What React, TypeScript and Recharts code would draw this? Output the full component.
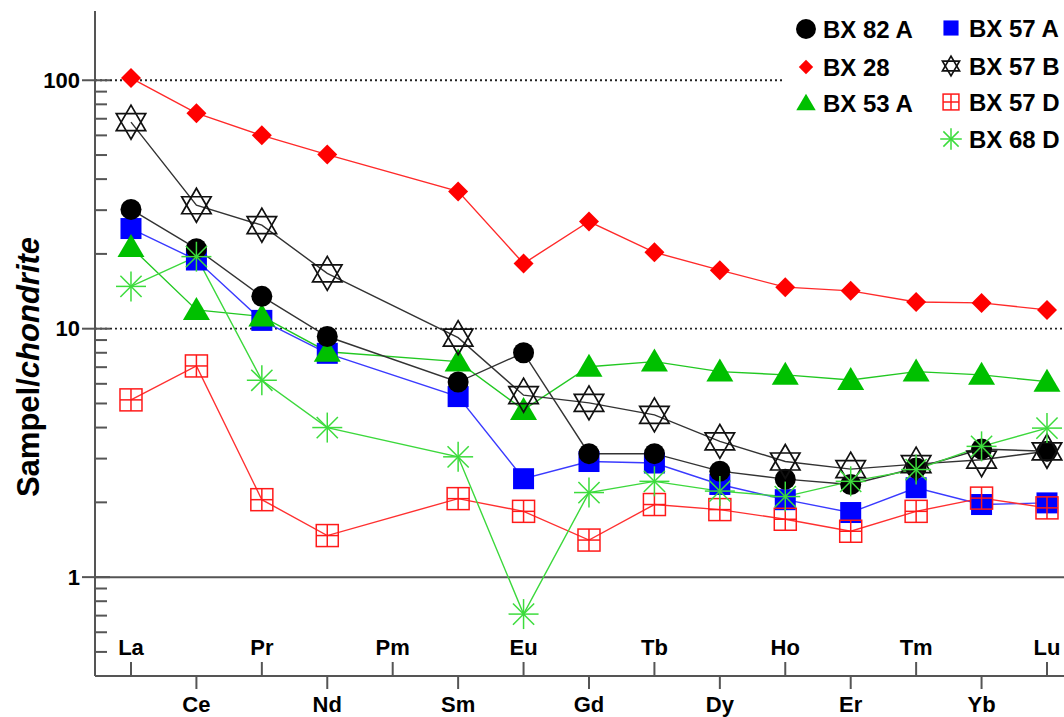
import { Legend, Line, LineChart, ReferenceLine, XAxis, YAxis } from 'recharts'

const elements = ['La', 'Ce', 'Pr', 'Nd', 'Pm', 'Sm', 'Eu', 'Gd', 'Tb', 'Dy', 'Ho', 'Er', 'Tm', 'Yb', 'Lu']

// chondrite-normalised values, Pm not measured
const bx82a = [30.2, 21.0, 13.5, 9.3, null, 6.1, 8.0, 3.14, 3.14, 2.67, 2.48, 2.36, 2.75, 3.28, 3.21]
const bx28 = [102, 73.7, 60, 50.2, null, 35.7, 18.3, 27, 20.3, 17.2, 14.7, 14.2, 12.8, 12.7, 11.9]
const bx53a = [21.3, 11.9, 11.2, 8.08, null, 7.37, 4.71, 7.03, 7.37, 6.72, 6.52, 6.22, 6.72, 6.52, 6.12]
const bx57a = [25.3, 18.9, 10.8, 7.96, null, 5.33, 2.49, 2.92, 2.88, 2.36, 2.05, 1.82, 2.29, 1.96, 1.99]
const bx57b = [67.8, 31.4, 26.1, 16.7, null, 9.2, 5.4, 5.03, 4.5, 3.52, 2.92, 2.72, 2.85, 2.97, 3.21]
const bx57d = [5.17, 7.08, 2.05, 1.47, null, 2.07, 1.84, 1.41, 1.96, 1.87, 1.71, 1.53, 1.84, 2.08, 1.9]
const bx68d = [14.8, 19.5, 6.2, 4.0, null, 3.05, 0.71, 2.19, 2.43, 2.22, 2.11, 2.43, 2.71, 3.36, 3.98]

const yTicks = [0.5, 0.6, 0.7, 0.8, 0.9, 1, 2, 3, 4, 5, 6, 7, 8, 9, 10, 20, 30, 40, 50, 60, 70, 80, 90, 100]
const yLabels: Record<number, string> = { 1: '1', 10: '10', 100: '100' }

type Kind = 'circle' | 'diamond' | 'triangle' | 'square' | 'star' | 'boxcross' | 'asterisk'

interface Series {
  key: string
  name: string
  values: (number | null)[]
  color: string
  line: string
  kind: Kind
}

// drawing order (later on top)
const series: Series[] = [
  { key: 'bx57a', name: 'BX 57 A', values: bx57a, color: '#0000ff', line: '#3a3aff', kind: 'square' },
  { key: 'bx53a', name: 'BX 53 A', values: bx53a, color: '#00c000', line: '#22c822', kind: 'triangle' },
  { key: 'bx82a', name: 'BX 82 A', values: bx82a, color: '#000000', line: '#333333', kind: 'circle' },
  { key: 'bx28', name: 'BX 28', values: bx28, color: '#ff0000', line: '#ff2a2a', kind: 'diamond' },
  { key: 'bx57b', name: 'BX 57 B', values: bx57b, color: '#111111', line: '#333333', kind: 'star' },
  { key: 'bx57d', name: 'BX 57 D', values: bx57d, color: '#ff1a1a', line: '#ff3030', kind: 'boxcross' },
  { key: 'bx68d', name: 'BX 68 D', values: bx68d, color: '#3cdc3c', line: '#3cd83c', kind: 'asterisk' },
]

const rows = elements.map((el, i) => {
  const r: Record<string, number | string | null> = { idx: i, el }
  for (const s of series) r[s.key] = s.values[i]
  return r
})

const FONT = "Arial, 'Liberation Sans', sans-serif"

function Marker({ kind, cx, cy, s, color }: { kind: Kind; cx: number; cy: number; s: number; color: string }) {
  switch (kind) {
    case 'circle':
      return <circle cx={cx} cy={cy} r={10.5 * s} fill={color} />
    case 'diamond': {
      const h = 10 * s
      return <polygon points={`${cx},${cy - h} ${cx + h},${cy} ${cx},${cy + h} ${cx - h},${cy}`} fill={color} />
    }
    case 'triangle': {
      const w = 13.5 * s
      return (
        <polygon
          points={`${cx},${cy - 13 * s} ${cx + w},${cy + 10 * s} ${cx - w},${cy + 10 * s}`}
          fill={color}
        />
      )
    }
    case 'square': {
      const h = 10.5 * s
      return <rect x={cx - h} y={cy - h} width={2 * h} height={2 * h} fill={color} />
    }
    case 'star': {
      const R = 17 * s
      const pt = (a: number) => `${cx + R * Math.cos((a * Math.PI) / 180)},${cy + R * Math.sin((a * Math.PI) / 180)}`
      return (
        <g fill="none" stroke={color} strokeWidth={1.7}>
          <polygon points={[-90, 30, 150].map(pt).join(' ')} />
          <polygon points={[90, 210, 330].map(pt).join(' ')} />
        </g>
      )
    }
    case 'boxcross': {
      const h = 11 * s
      return (
        <g fill="none" stroke={color} strokeWidth={1.5}>
          <rect x={cx - h} y={cy - h} width={2 * h} height={2 * h} />
          <line x1={cx} y1={cy - h} x2={cx} y2={cy + h} />
          <line x1={cx - h} y1={cy} x2={cx + h} y2={cy} />
        </g>
      )
    }
    case 'asterisk': {
      const R = 15 * s
      return (
        <g stroke={color} strokeWidth={1.5}>
          {[0, 45, 90, 135].map((a) => {
            const dx = R * Math.cos((a * Math.PI) / 180)
            const dy = R * Math.sin((a * Math.PI) / 180)
            return <line key={a} x1={cx - dx} y1={cy - dy} x2={cx + dx} y2={cy + dy} />
          })}
        </g>
      )
    }
  }
}

function XTick(props: any) {
  const { x, y, payload } = props
  const i = Number(payload.value)
  const up = i % 2 === 0
  return (
    <g>
      <line x1={x} x2={x} y1={y} y2={up ? y - 14 : y + 13} stroke="#555" strokeWidth={2} />
      <text
        x={x}
        y={up ? y - 29 : y + 28}
        textAnchor="middle"
        dominantBaseline="central"
        fontFamily={FONT}
        fontWeight="bold"
        fontSize={22}
        fill="#000"
      >
        {elements[i]}
      </text>
    </g>
  )
}

function YTick(props: any) {
  const { x, y, payload } = props
  const v = Number(payload.value)
  const label = yLabels[v]
  if (label) {
    return (
      <g>
        <line x1={x - 13} x2={x + 15} y1={y} y2={y} stroke="#555" strokeWidth={2} />
        <text
          x={x - 15}
          y={y}
          textAnchor="end"
          dominantBaseline="central"
          fontFamily={FONT}
          fontWeight="bold"
          fontSize={22}
          fill="#000"
        >
          {label}
        </text>
      </g>
    )
  }
  return <line x1={x} x2={x + 12} y1={y} y2={y} stroke="#555" strokeWidth={2} />
}

const legendCol1 = ['bx82a', 'bx28', 'bx53a']
const legendCol2 = ['bx57a', 'bx57b', 'bx57d', 'bx68d']
const legendCol1Y = [29, 67, 103]
const legendCol2Y = [28, 66, 102, 139]

function LegendBox() {
  const item = (key: string, mx: number, my: number, tx: number) => {
    const s = series.find((d) => d.key === key)!
    const small = s.kind === 'circle' ? 0.95 : s.kind === 'asterisk' ? 0.72 : s.kind === 'star' ? 0.58 : 0.72
    return (
      <g key={key}>
        <Marker kind={s.kind} cx={mx} cy={my} s={small} color={s.color} />
        <text
          x={tx}
          y={my}
          dominantBaseline="central"
          fontFamily={FONT}
          fontWeight="bold"
          fontSize={24}
          fill="#000"
        >
          {s.name}
        </text>
      </g>
    )
  }
  return (
    <svg width={281} height={165} style={{ display: 'block' }}>
      <rect x={0} y={0} width={281} height={165} fill="#fff" />
      {legendCol1.map((k, i) => item(k, 23, legendCol1Y[i], 40))}
      {legendCol2.map((k, i) => item(k, 168, legendCol2Y[i], 186))}
    </svg>
  )
}

function YTitle() {
  return (
    <text
      x={28}
      y={367}
      transform="rotate(-90, 28, 367)"
      textAnchor="middle"
      dominantBaseline="central"
      fontFamily={FONT}
      fontWeight="bold"
      fontSize={31}
      fill="#000"
    >
      <tspan>Sampel/</tspan>
      <tspan fontStyle="italic">chondrite</tspan>
    </text>
  )
}

export default function App() {
  return (
    <div style={{ position: 'absolute', left: 0, top: 0, width: 1064, height: 717, background: '#fff' }}>
      <LineChart width={1064} height={717} data={rows} margin={{ top: 11, right: 0, left: 0, bottom: 0 }}>
        <XAxis
          dataKey="idx"
          type="number"
          domain={[-0.55, 14.26]}
          ticks={elements.map((_, i) => i)}
          interval={0}
          height={41}
          tickSize={0}
          tickMargin={0}
          tickLine={false}
          tick={<XTick />}
          axisLine={{ stroke: '#555', strokeWidth: 2 }}
        />
        <YAxis
          type="number"
          scale="log"
          domain={[0.4, 190]}
          allowDataOverflow
          ticks={yTicks}
          interval={0}
          width={95}
          tickSize={0}
          tickMargin={0}
          tickLine={false}
          tick={<YTick />}
          axisLine={{ stroke: '#555', strokeWidth: 2 }}
          label={{ content: () => <YTitle /> }}
        />
        <ReferenceLine y={100} stroke="#222" strokeWidth={1.8} strokeDasharray="2 3" />
        <ReferenceLine y={10} stroke="#222" strokeWidth={1.8} strokeDasharray="2 3" />
        <ReferenceLine y={1} stroke="#555" strokeWidth={2} />
        <Legend
          layout="vertical"
          align="center"
          verticalAlign="middle"
          content={() => <LegendBox />}
          wrapperStyle={{ position: 'absolute', left: 783, top: 0, width: 281, height: 165 }}
        />
        {series.map((s) => (
          <Line
            key={s.key}
            dataKey={s.key}
            name={s.name}
            stroke={s.line}
            strokeWidth={1.4}
            connectNulls
            isAnimationActive={false}
            activeDot={false}
            dot={(p: any) => {
              if (p.cx == null || p.cy == null || p.value == null) return <g key={`${s.key}-${p.index}`} />
              return (
                <g key={`${s.key}-${p.index}`}>
                  <Marker kind={s.kind} cx={p.cx} cy={p.cy} s={1} color={s.color} />
                </g>
              )
            }}
          />
        ))}
      </LineChart>
    </div>
  )
}
